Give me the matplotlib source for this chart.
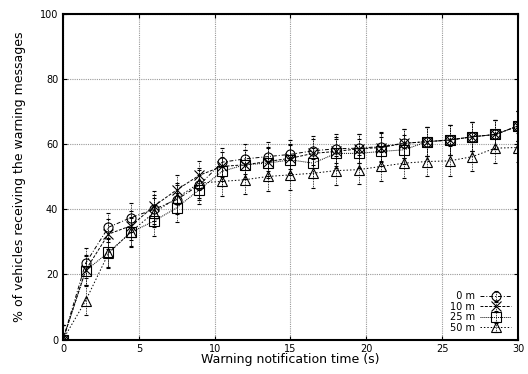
import matplotlib

matplotlib.use("Agg")

import matplotlib.pyplot as plt

# Warning notification time (s) and delivery ratio for each distance setting
times = [0, 1.5, 3, 4.5, 6, 7.5, 9, 10.5, 12, 13.5, 15,
         16.5, 18, 19.5, 21, 22.5, 24, 25.5, 27, 28.5, 30]

pct_0m = [0, 23.5, 34.5, 37.5, 40, 43, 47.5, 54.5, 55.5, 56.2, 56.9,
          58, 58.6, 58.8, 59.3, 60.3, 60.8, 61.3, 62.3, 63, 65.6]
pct_10m = [0, 21.4, 32.4, 35, 41, 46, 50.5, 53.2, 53.7, 54.7, 55.7,
           57.2, 57.8, 58.6, 59, 60.3, 60.8, 61.3, 62.3, 63, 65.6]
pct_25m = [0, 21.2, 26.8, 33, 36.4, 40.5, 46.1, 51.7, 53.7, 54.2, 55.2,
           54.2, 57.2, 57.2, 57.8, 58.3, 60.8, 61.3, 62.3, 63, 65.6]
pct_50m = [0, 12, 26.5, 33.2, 39, 43.5, 48.1, 48.6, 49.1, 50.1, 50.6,
           51.1, 51.9, 52.2, 53.2, 54.2, 54.7, 54.9, 56.2, 58.8, 59]

err = 4.5

labels = ["  0 m", "10 m", "25 m", "50 m"]
series = [pct_0m, pct_10m, pct_25m, pct_50m]
markers = ["o", "x", "s", "^"]
dashes = [(4, 2, 1, 2), (3, 1.5), (1, 1), (1.5, 2)]

plt.rcParams["font.family"] = "DejaVu Sans"

fig = plt.figure(figsize=(5.28, 3.74), dpi=100)
ax = fig.add_axes([0.1193, 0.092, 0.8617, 0.8705])

for vals, lab, mk, ds in zip(series, labels, markers, dashes):
    line, caps, bars = ax.errorbar(
        times, vals, yerr=err,
        color="black", lw=0.7, marker=mk, markersize=6.5 if mk != "x" else 7.5,
        mfc="none", mec="black", mew=0.8,
        elinewidth=0.6, capsize=1.5, capthick=0.6,
        label=lab, zorder=3,
    )
    line.set_dashes(ds)
    for b in bars:
        b.set_linestyle((0, (1, 1)))

ax.set_xlim(0, 30)
ax.set_ylim(0, 100)
ax.set_xticks(range(0, 31, 5))
ax.set_yticks(range(0, 101, 20))
ax.grid(True, color="#999999", linestyle=(0, (1, 1)), lw=0.8)
ax.tick_params(direction="in", length=3, labelsize=7, top=True, right=True, width=0.8)
for sp in ax.spines.values():
    sp.set_linewidth(1.5)

ax.set_xlabel("Warning notification time (s)", fontsize=9, labelpad=-1)
ax.set_ylabel("% of vehicles receiving the warning messages", fontsize=9, labelpad=10)

leg = ax.legend(loc="lower right", markerfirst=False, frameon=False, fontsize=7,
                handlelength=3.2, labelspacing=0.05, handletextpad=0.5,
                borderaxespad=0.3)

fig.savefig("out.png", dpi=100)
